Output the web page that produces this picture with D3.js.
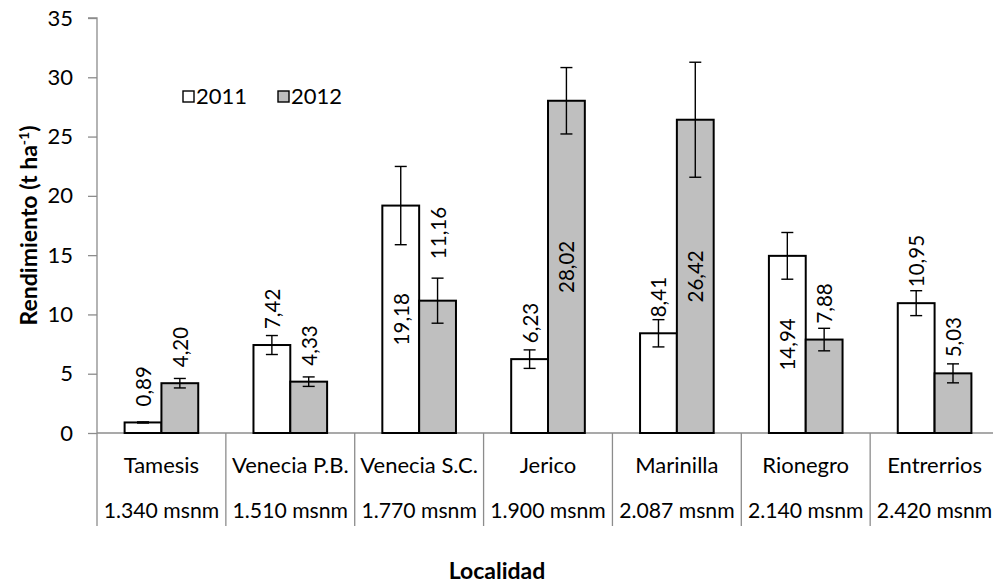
<!DOCTYPE html>
<html>
<head>
<meta charset="utf-8">
<script src="https://cdn.jsdelivr.net/npm/d3@7"></script>
<style>
  html, body { margin: 0; padding: 0; background: #fff; }
  svg { display: block; font-family: Lato, "Open Sans", sans-serif; }
</style>
</head>
<body>
<svg id="chart" width="993" height="587"></svg>
<script>
// Localities and their altitude
const localidades = ["Tamesis", "Venecia P.B.", "Venecia S.C.", "Jerico", "Marinilla", "Rionegro", "Entrerrios"];
const altitudes = ["1.340 msnm", "1.510 msnm", "1.770 msnm", "1.900 msnm", "2.087 msnm", "2.140 msnm", "2.420 msnm"];

// Yield (t/ha) per year, with error bar half-widths
const years = ["2011", "2012"];
const rend2011 = [0.89, 7.42, 19.18, 6.23, 8.41, 14.94, 10.95];
const rend2012 = [4.20, 4.33, 11.16, 28.02, 26.42, 7.88, 5.03];
const err2011 = [0.05, 0.80, 3.30, 0.78, 1.15, 1.97, 1.05];
const err2012 = [0.40, 0.40, 1.90, 2.80, 4.85, 0.95, 0.80];

// Value label placement: above the bar, centred in the bar, or above the error bar
const place2011 = ["out", "out", "center", "out", "out", "center", "out"];
const place2012 = ["out", "out", "aboveErr", "center", "center", "out", "out"];

const yTicks = [0, 5, 10, 15, 20, 25, 30, 35];

const fills = ["#ffffff", "#bfbfbf"];
const axisGray = "#8c8c8c";
const fmt = v => v.toFixed(2).replace(".", ",");

const svg = d3.select("#chart");

const plot = { left: 97, top: 18, bottom: 433, band: 128.86 };
const x = d3.scaleBand()
  .domain(localidades)
  .range([plot.left, plot.left + plot.band * localidades.length])
  .paddingInner(0).paddingOuter(0);
const y = d3.scaleLinear().domain([0, 35]).range([plot.bottom, plot.top]);

// bars are a pair per band with a 150% gap
const barW = x.bandwidth() / 3.5;
const groupOff = (x.bandwidth() - 2 * barW) / 2;
const xs = d3.scaleBand().domain(years).range([groupOff, groupOff + 2 * barW]);

// y axis
const yAxis = d3.axisLeft(y).tickValues(yTicks).tickSize(9).tickPadding(15).tickFormat(d => d);
const gy = svg.append("g").attr("transform", `translate(${plot.left},0)`).call(yAxis);
gy.select(".domain").attr("stroke", axisGray).attr("stroke-width", 1.3)
  .attr("d", `M-9,${plot.top}H0V${plot.bottom}`);
gy.selectAll(".tick line").attr("stroke", axisGray).attr("stroke-width", 1.3);
gy.selectAll(".tick text").attr("font-size", 22).attr("fill", "#000")
  .attr("font-family", "Lato, sans-serif");

// category boundaries (table-style x axis)
const bounds = d3.range(localidades.length + 1).map(i => plot.left + i * x.step());
svg.append("line")
  .attr("x1", plot.left).attr("x2", 993)
  .attr("y1", plot.bottom).attr("y2", plot.bottom)
  .attr("stroke", axisGray).attr("stroke-width", 1.3);
svg.selectAll(".bound").data(bounds).enter().append("line")
  .attr("x1", d => d).attr("x2", d => d)
  .attr("y1", plot.bottom).attr("y2", 526)
  .attr("stroke", axisGray).attr("stroke-width", 1.3);

svg.selectAll(".cat").data(localidades).enter().append("text")
  .attr("x", d => x(d) + x.bandwidth() / 2).attr("y", 473)
  .attr("text-anchor", "middle").attr("font-size", 22).text(d => d);
svg.selectAll(".alt").data(altitudes).enter().append("text")
  .attr("x", (d, i) => x(localidades[i]) + x.bandwidth() / 2).attr("y", 518)
  .attr("text-anchor", "middle").attr("font-size", 21.2).text(d => d);

// series
const series = [
  { year: "2011", vals: rend2011, errs: err2011, place: place2011, fill: fills[0] },
  { year: "2012", vals: rend2012, errs: err2012, place: place2012, fill: fills[1] }
];

series.forEach(s => {
  const g = svg.append("g");
  const cx = i => x(localidades[i]) + xs(s.year) + barW / 2;
  g.selectAll("rect").data(s.vals).enter().append("rect")
    .attr("x", (d, i) => x(localidades[i]) + xs(s.year))
    .attr("y", d => y(d))
    .attr("width", barW)
    .attr("height", d => y(0) - y(d))
    .attr("fill", s.fill).attr("stroke", "#000").attr("stroke-width", 2);

  // error bars
  s.vals.forEach((v, i) => {
    const top = y(v + s.errs[i]), bot = y(v - s.errs[i]);
    const eg = g.append("g").attr("stroke", "#000").attr("stroke-width", 1.4);
    eg.append("line").attr("x1", cx(i)).attr("x2", cx(i)).attr("y1", top).attr("y2", bot);
    eg.append("line").attr("x1", cx(i) - 6).attr("x2", cx(i) + 6).attr("y1", top).attr("y2", top);
    eg.append("line").attr("x1", cx(i) - 6).attr("x2", cx(i) + 6).attr("y1", bot).attr("y2", bot);
  });

  // value labels, rotated
  s.vals.forEach((v, i) => {
    const mode = s.place[i];
    let ay, anchor;
    if (mode === "center") { ay = (y(v) + y(0)) / 2; anchor = "middle"; }
    else if (mode === "aboveErr") { ay = y(v + s.errs[i]) - 19; anchor = "start"; }
    else { ay = y(v) - 16; anchor = "start"; }
    g.append("text")
      .attr("transform", `translate(${cx(i)},${ay}) rotate(-90)`)
      .attr("text-anchor", anchor)
      .attr("dominant-baseline", "central")
      .attr("font-size", 20.5)
      .text(fmt(v));
  });
});

// legend
const legend = svg.append("g").attr("transform", "translate(183,91)");
years.forEach((yr, i) => {
  const lg = legend.append("g").attr("transform", `translate(${i * 95},0)`);
  lg.append("rect").attr("x", 0).attr("y", 0).attr("width", 11).attr("height", 11)
    .attr("fill", fills[i]).attr("stroke", "#000").attr("stroke-width", 1.4);
  lg.append("text").attr("x", 13).attr("y", 13).attr("font-size", 22).text(yr);
});

// axis titles
const yTitle = svg.append("text")
  .attr("transform", `translate(37,${(plot.top + plot.bottom) / 2}) rotate(-90)`)
  .attr("text-anchor", "middle").attr("font-size", 23).attr("font-weight", "bold");
yTitle.append("tspan").text("Rendimiento (t ha");
yTitle.append("tspan").attr("baseline-shift", "super").attr("font-size", 14).text("-1");
yTitle.append("tspan").text(")");

svg.append("text")
  .attr("x", 497).attr("y", 579)
  .attr("text-anchor", "middle").attr("font-size", 23).attr("font-weight", "bold")
  .text("Localidad");
</script>
</body>
</html>
